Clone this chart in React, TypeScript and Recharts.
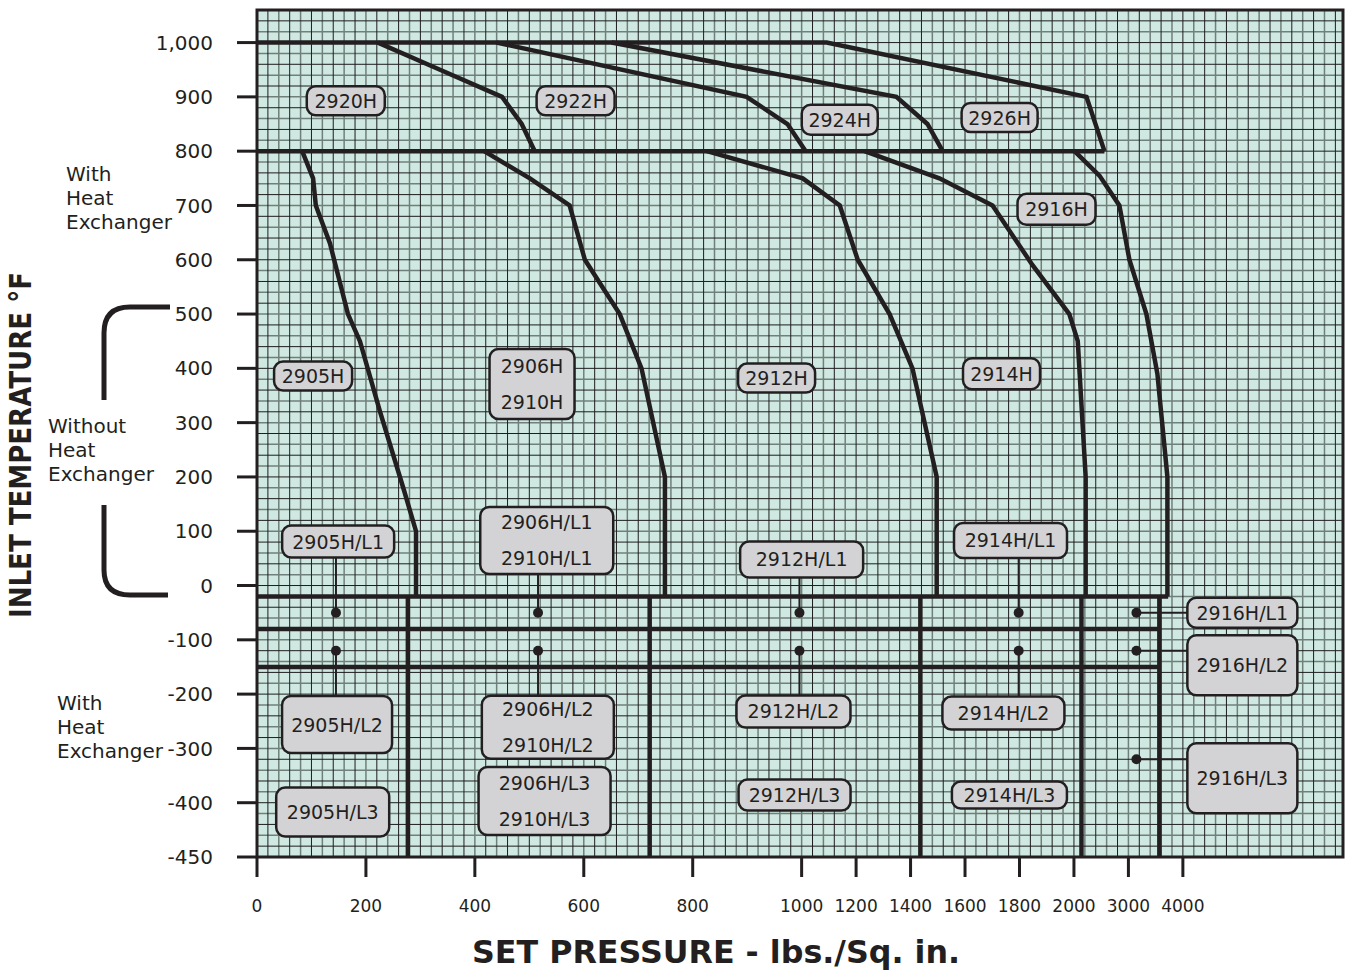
import {
  ComposedChart, Line, Scatter, XAxis, YAxis, CartesianGrid,
  ReferenceLine, ReferenceArea,
} from 'recharts';

const FONT = '"DejaVu Sans", sans-serif';
const INK = '#231f20';

// axis ticks: the pressure axis is stretched below 1000 psi, so ticks sit on grid cells
const PRESSURE_TICKS = [0, 200, 400, 600, 800, 1000, 1200, 1400, 1600, 1800, 2000, 3000, 4000];
const PRESSURE_TICK_POS = [0, 10, 20, 30, 40, 50, 55, 60, 65, 70, 75, 80, 85];
const TEMP_TICK_POS = [-500, -400, -300, -200, -100, 0, 100, 200, 300, 400, 500, 600, 700, 800, 900, 1000];
const TEMP_TICK_LABELS = ['-450', '-400', '-300', '-200', '-100', '0', '100', '200', '300', '400', '500', '600', '700', '800', '900', '1,000'];

// with heat exchanger (800-1000 °F) — [psi, °F]
const TOP_2926H = [[0, 1000], [1092, 1000], [2230, 900], [2560, 800]];
const CURVE_2920H = [[222, 1000], [336, 950], [450, 900], [486, 850], [510, 800]];
const CURVE_2922H = [[440, 1000], [899, 900], [974, 850], [1015, 800]];
const CURVE_2924H = [[651, 1000], [1348, 900], [1462, 850], [1518, 800]];
const LINE_800 = [[0, 800], [2560, 800]];

// without heat exchanger (down to -20 °F)
const CURVE_2905H = [[83, 800], [103, 750], [108, 700], [134, 630], [167, 500], [189, 450], [226, 320], [270, 175], [292, 100], [292, -20]];
const CURVE_2906H = [[417, 800], [501, 750], [574, 700], [602, 600], [666, 500], [706, 400], [749, 200], [749, -20]];
const CURVE_2912H = [[826, 800], [1004, 750], [1140, 700], [1206, 600], [1323, 500], [1407, 400], [1496, 200], [1496, -20]];
const CURVE_2914H = [[1231, 800], [1506, 750], [1701, 700], [1848, 590], [1983, 500], [2070, 450], [2215, 200], [2215, -20]];
const CURVE_2916H = [[2010, 800], [2468, 755], [2834, 700], [3018, 600], [3330, 500], [3532, 390], [3716, 200], [3716, -20]];

// low temperature bands
const SEP_MINUS20 = [[0, -20], [3730, -20]];
const SEP_MINUS80 = [[0, -80], [3568, -80]];
const SEP_MINUS150 = [[0, -150], [3568, -150]];
const BAND_DIVIDERS = [277, 721, 1436, 2138, 3568];
const BAND_BOTTOM = -500;

const DOT_PRESSURES = [145, 516, 996, 1797, 3147];
const DOT_TEMPS = [-50, -120];
const EXTRA_DOT = [3147, -320];

const TAG_TEXT: string[][] = [
  ['2920H'], ['2922H'], ['2924H'], ['2926H'], ['2916H'],
  ['2905H'], ['2906H', '2910H'], ['2912H'], ['2914H'],
  ['2905H/L1'], ['2906H/L1', '2910H/L1'], ['2912H/L1'], ['2914H/L1'],
  ['2916H/L1'], ['2916H/L2'], ['2916H/L3'],
  ['2905H/L2'], ['2905H/L3'], ['2906H/L2', '2910H/L2'], ['2906H/L3', '2910H/L3'],
  ['2912H/L2'], ['2912H/L3'], ['2914H/L2'], ['2914H/L3'],
];
// [psi, °F, box w, box h]
const TAG_BOX = [
  [163, 893, 78, 29], [585, 893, 78, 29], [1140, 858, 76, 30], [1727, 862, 76, 29], [1936, 693, 78, 31],
  [103, 386, 78, 29], [505, 371, 85, 70], [954, 382, 77, 29], [1734, 390, 77, 31],
  [149, 81, 112, 32], [532, 83, 133, 67], [1000, 48, 123, 36], [1767, 83, 113, 35],
  [5092, -50, 110, 30], [5092, -147, 110, 60], [5092, -355, 110, 70],
  [147, -256, 110, 57], [139, -417, 113, 49], [534, -261, 132, 63], [528, -397, 132, 68],
  [985, -232, 114, 32], [987, -386, 112, 31], [1741, -235, 122, 33], [1763, -386, 115, 27],
];

// leader lines from band dots to tags
const LEADERS = [
  [145, 51, 145, -50], [145, -120, 145, -204],
  [516, 20, 516, -50], [516, -120, 516, -204],
  [996, 15, 996, -50], [996, -120, 996, -202],
  [1797, 51, 1797, -50], [1797, -120, 1797, -206],
  [3147, -50, 4082, -50], [3147, -120, 4082, -120], [3147, -320, 4082, -320],
];

function toPos(p: number): number {
  const n = PRESSURE_TICKS.length;
  for (let i = 1; i < n; i++) {
    if (p <= PRESSURE_TICKS[i]) {
      const p0 = PRESSURE_TICKS[i - 1], p1 = PRESSURE_TICKS[i];
      const x0 = PRESSURE_TICK_POS[i - 1], x1 = PRESSURE_TICK_POS[i];
      return x0 + ((p - p0) / (p1 - p0)) * (x1 - x0);
    }
  }
  const slope = (PRESSURE_TICK_POS[n - 1] - PRESSURE_TICK_POS[n - 2]) / (PRESSURE_TICKS[n - 1] - PRESSURE_TICKS[n - 2]);
  return PRESSURE_TICK_POS[n - 1] + (p - PRESSURE_TICKS[n - 1]) * slope;
}

const pts = (arr: number[][]) => arr.map(([p, t]) => ({ x: toPos(p), y: t }));

const X_MAX = 99.7;
const Y_MIN = -500;
const Y_MAX = 1060;

const GRID_X: number[] = [];
for (let i = 1; i < 100; i++) GRID_X.push(i);
const GRID_Y: number[] = [];
for (let v = Y_MIN + 20; v < Y_MAX; v += 20) GRID_Y.push(v);

const SERIES = [
  TOP_2926H, CURVE_2920H, CURVE_2922H, CURVE_2924H, LINE_800,
  CURVE_2905H, CURVE_2906H, CURVE_2912H, CURVE_2914H, CURVE_2916H,
  SEP_MINUS20, SEP_MINUS80, SEP_MINUS150,
  ...BAND_DIVIDERS.map(p => [[p, -20], [p, BAND_BOTTOM]]),
];

const tagData = TAG_BOX.map(([p, t, w, h], i) => ({ x: toPos(p), y: t, w, h, lines: TAG_TEXT[i] }));
const dotData = [
  ...DOT_PRESSURES.flatMap(p => DOT_TEMPS.map(t => ({ x: toPos(p), y: t }))),
  { x: toPos(EXTRA_DOT[0]), y: EXTRA_DOT[1] },
];

function Tag(props: any) {
  const { cx, cy, payload } = props;
  const { w, h, lines } = payload;
  const n = lines.length;
  return (
    <g>
      <rect x={cx - w / 2} y={cy - h / 2} width={w} height={h} rx={9} ry={9}
        fill="#d3d3d5" stroke={INK} strokeWidth={2.5} />
      {lines.map((l: string, i: number) => (
        <text key={l} x={cx} y={cy + (i - (n - 1) / 2) * 36} textAnchor="middle"
          dominantBaseline="central" fontSize={19} fill={INK}>{l}</text>
      ))}
    </g>
  );
}

function Dot(props: any) {
  return <circle cx={props.cx} cy={props.cy} r={5} fill={INK} />;
}

function SideNotes() {
  const note = (x: number, y: number, rows: string[]) => rows.map((r, i) => (
    <text key={r + y} x={x} y={y + i * 24} fontSize={20} fill={INK}>{r}</text>
  ));
  return (
    <svg width={1345} height={973} style={{ position: 'absolute', left: 0, top: 0, pointerEvents: 'none' }}>
      {note(66, 181, ['With', 'Heat', 'Exchanger'])}
      {note(48, 433, ['Without', 'Heat', 'Exchanger'])}
      {note(57, 710, ['With', 'Heat', 'Exchanger'])}
      <path d="M170,307 H130 Q104,307 104,333 V400" fill="none" stroke={INK} strokeWidth={5} />
      <path d="M104,505 V570 Q104,595 130,595 H168" fill="none" stroke={INK} strokeWidth={5} />
      <text transform="translate(31,445) rotate(-90)" textAnchor="middle" fontSize={31}
        fontWeight="bold" fill={INK} textLength={346} lengthAdjust="spacingAndGlyphs">
        INLET TEMPERATURE °F
      </text>
      <text x={716} y={963} textAnchor="middle" fontSize={32} fontWeight="bold" fill={INK}
        textLength={488} lengthAdjust="spacingAndGlyphs">
        SET PRESSURE - lbs./Sq. in.
      </text>
    </svg>
  );
}

export default function App() {
  return (
    <div style={{ position: 'absolute', left: 0, top: 0, width: 1345, height: 973, background: '#fff', fontFamily: FONT }}>
      <ComposedChart width={1345} height={973} margin={{ top: 10, right: 2, bottom: 0, left: 0 }}>
        <CartesianGrid fill="#cfe8e1" stroke="#6f807a" strokeWidth={1.5}
          verticalValues={GRID_X.filter(v => v % 2 === 0)}
          horizontalValues={GRID_Y.filter((_, i) => i % 2 === 1)} />
        <CartesianGrid stroke="#1d1d1d" strokeWidth={1}
          verticalValues={GRID_X.filter(v => v % 2 === 1)}
          horizontalValues={GRID_Y.filter((_, i) => i % 2 === 0)} />
        <XAxis type="number" dataKey="x" domain={[0, X_MAX]} allowDataOverflow
          ticks={PRESSURE_TICK_POS} interval={0} height={116}
          tickFormatter={(v: number) => String(PRESSURE_TICKS[PRESSURE_TICK_POS.indexOf(v)] ?? '')}
          tick={{ fontSize: 17, fill: INK }} tickSize={20} tickMargin={23}
          tickLine={{ stroke: INK, strokeWidth: 3 }} axisLine={false} />
        <YAxis type="number" dataKey="y" domain={[Y_MIN, Y_MAX]} allowDataOverflow
          ticks={TEMP_TICK_POS} interval={0} width={257}
          tickFormatter={(v: number) => TEMP_TICK_LABELS[TEMP_TICK_POS.indexOf(v)] ?? ''}
          tick={{ fontSize: 20, fill: INK }} tickSize={20} tickMargin={24}
          tickLine={{ stroke: INK, strokeWidth: 3 }} axisLine={false} />
        <ReferenceArea x1={0} x2={X_MAX} y1={Y_MIN} y2={Y_MAX} fill="none" stroke={INK} strokeWidth={3} />
        {SERIES.map((s, i) => (
          <Line key={i} data={pts(s)} dataKey="y" type="linear" stroke={INK} strokeWidth={4.5}
            dot={false} activeDot={false} isAnimationActive={false} strokeLinejoin="miter" />
        ))}
        {LEADERS.map(([p1, t1, p2, t2], i) => (
          <ReferenceLine key={'ld' + i} segment={[{ x: toPos(p1), y: t1 }, { x: toPos(p2), y: t2 }]}
            stroke={INK} strokeWidth={2} />
        ))}
        <Scatter data={dotData} shape={<Dot />} isAnimationActive={false} />
        <Scatter data={tagData} shape={<Tag />} isAnimationActive={false} />
      </ComposedChart>
      <SideNotes />
    </div>
  );
}
